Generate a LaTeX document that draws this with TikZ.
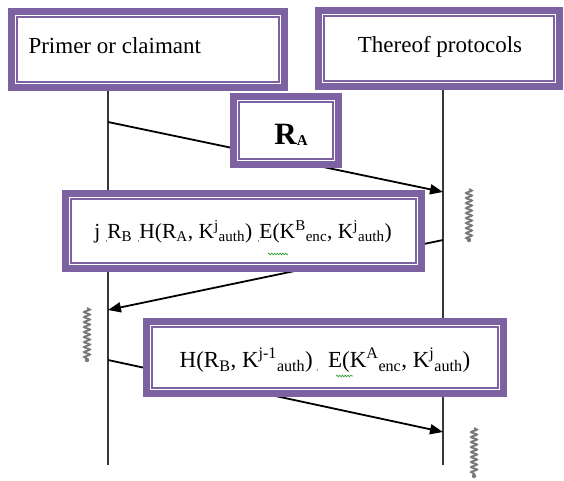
\documentclass[tikz,border=0pt]{standalone}
\usepackage{fontspec}
\setmainfont{Liberation Serif}
\usetikzlibrary{arrows.meta,decorations.pathmorphing}
\definecolor{boxpurple}{RGB}{124,98,160}
\definecolor{lifegray}{RGB}{55,55,55}
\definecolor{squig}{RGB}{120,120,120}
\definecolor{spellgreen}{RGB}{60,160,60}
\tikzset{
  outerbox/.style={fill=boxpurple, draw=none, inner sep=0pt, outer sep=0pt},
  innerbox/.style={fill=white, draw=boxpurple, line width=1.2pt, inner sep=0pt, outer sep=0pt,
    preaction={draw=white, line width=4pt}},
  lifeline/.style={draw=lifegray, line width=2.4pt},
  msg/.style={draw=black, line width=1.8pt, -{Triangle[length=13pt,width=10pt]}},
  squiggle/.style={draw=squig, line width=1.8pt, decorate,
    decoration={snake, amplitude=3pt, segment length=5pt}},
  spell/.style={draw=spellgreen, line width=0.7pt, decorate,
    decoration={snake, amplitude=0.9pt, segment length=2.8pt}}
}
\newcommand{\lowc}{\raisebox{-0.3ex}{\scriptsize ,}}
\begin{document}
\begin{tikzpicture}[x=1pt,y=-1pt]
\useasboundingbox (0,0) rectangle (564,480);
% lifelines
\coordinate (Ltop) at (108,91);
\coordinate (Lbot) at (108,465);
\coordinate (Rtop) at (443,90);
\coordinate (Rbot) at (443,465);
\draw[lifeline] (Ltop) -- (Lbot);
\draw[lifeline] (Rtop) -- (Rbot);
% message end points
\coordinate (m1s) at (108,122);
\coordinate (m1e) at (443,192);
\coordinate (m2s) at (443,240);
\coordinate (m2e) at (108,310);
\coordinate (m3s) at (108,360);
\coordinate (m3e) at (443,432);
\draw[msg] (m1s) -- (m1e);
\draw[msg] (m2s) -- (m2e);
\draw[msg] (m3s) -- (m3e);
% boxes
\node[outerbox, minimum width=280pt, minimum height=83pt] (claimO) at (148,49.5) {};
\node[innerbox, minimum width=262pt, minimum height=65pt] (claim) at (claimO) {};
\node[anchor=west, font=\fontsize{23}{26}\selectfont] (claimT) at (25,46) {Primer or claimant};

\node[outerbox, minimum width=248pt, minimum height=83pt] (protO) at (439,48.5) {};
\node[innerbox, minimum width=230pt, minimum height=65pt] (prot) at (protO) {};
\node[font=\fontsize{23}{26}\selectfont] (protT) at (440,47) {Thereof protocols};

\node[outerbox, minimum width=112pt, minimum height=75pt] (raO) at (286,130.5) {};
\node[innerbox, minimum width=94pt, minimum height=57pt] (ra) at (raO) {};
\node[font=\fontsize{31}{33}\selectfont\bfseries] (raT) at (291,135) {R\raisebox{-0.1ex}{\fontsize{15}{16}\selectfont A}};

\node[outerbox, minimum width=363pt, minimum height=82pt] (m2O) at (243.5,231) {};
\node[innerbox, minimum width=345pt, minimum height=64pt] (m2box) at (m2O) {};
\node[font=\fontsize{21.5}{24}\selectfont] (m2T) at (243,232) {j \lowc R\textsubscript{B} \lowc H(R\textsubscript{A}, K\textsuperscript{j}\textsubscript{auth}) \lowc E(K\textsuperscript{B}\textsubscript{enc}, K\textsuperscript{j}\textsubscript{auth})};
\coordinate (sp1a) at (268,254);
\coordinate (sp1b) at (288,254);
\draw[spell] (sp1a) -- (sp1b);

\node[outerbox, minimum width=364pt, minimum height=79pt] (m3O) at (325,357.5) {};
\node[innerbox, minimum width=346pt, minimum height=61pt] (m3box) at (m3O) {};
\node[font=\fontsize{23}{26}\selectfont] (m3T) at (325,360) {H(R\textsubscript{B}, K\textsuperscript{j-1}\textsubscript{auth})\,\lowc\, E(K\textsuperscript{A}\textsubscript{enc}, K\textsuperscript{j}\textsubscript{auth})};
\coordinate (sp2a) at (336,376);
\coordinate (sp2b) at (353,376);
\draw[spell] (sp2a) -- (sp2b);

% squiggles
\coordinate (s1a) at (469,189);
\coordinate (s1b) at (469,240);
\coordinate (s2a) at (87,308);
\coordinate (s2b) at (87,360);
\coordinate (s3a) at (474,428);
\coordinate (s3b) at (474,476);
\draw[squiggle] (s1a) -- (s1b);
\draw[squiggle] (s2a) -- (s2b);
\draw[squiggle] (s3a) -- (s3b);
\fill[squig] (s1b) circle (2.2pt);
\fill[squig] (s2b) circle (2.2pt);
\fill[squig] (s3b) circle (2.2pt);
\end{tikzpicture}
\end{document}
